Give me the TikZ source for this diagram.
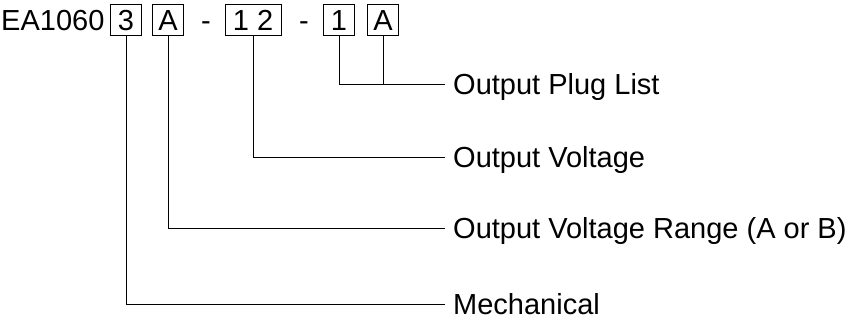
\documentclass[tikz,border=0pt]{standalone}
\usepackage{fontspec}
\setmainfont{Liberation Sans}
\begin{document}
\begin{tikzpicture}[x=1pt,y=-1pt,
  every node/.style={font=\fontsize{29}{34}\selectfont, inner sep=0pt, text height=20.8pt, text depth=0pt},
  digbox/.style={draw, line width=0.9pt, minimum height=31pt, minimum width=31pt},
  lbl/.style={anchor=west},
  conn/.style={line width=0.9pt}]
\useasboundingbox (0,0) rectangle (855,320);
\node[anchor=west] (ea) at (1,20.3) {EA1060};
\node[digbox] (b3) at (126,20.3) {3};
\node[digbox] (bA1) at (168,20.3) {A};
\node (d1) at (206,20.3) {-};
\node[digbox, minimum width=56pt] (b12) at (253,20.3) {1 2};
\node (d2) at (304,20.3) {-};
\node[digbox] (b1) at (339,20.3) {1};
\node[digbox] (bA2) at (383,20.3) {A};
\node[lbl] (lplug) at (453,84) {Output Plug List};
\node[lbl] (lvolt) at (453,157) {Output Voltage};
\node[lbl] (lrange) at (453,228) {Output Voltage Range (A or B)};
\node[lbl] (lmech) at (453,304) {Mechanical};
\coordinate (eplug) at ([xshift=-8pt]lplug.west);
\coordinate (evolt) at ([xshift=-8pt]lvolt.west);
\coordinate (erange) at ([xshift=-8pt]lrange.west);
\coordinate (emech) at ([xshift=-8pt]lmech.west);
\draw[conn] (b1.south) |- (eplug);
\draw[conn] (bA2.south) -- (bA2.south |- eplug);
\draw[conn] (b12.south) |- (evolt);
\draw[conn] (bA1.south) |- (erange);
\draw[conn] (b3.south) |- (emech);
\end{tikzpicture}
\end{document}
